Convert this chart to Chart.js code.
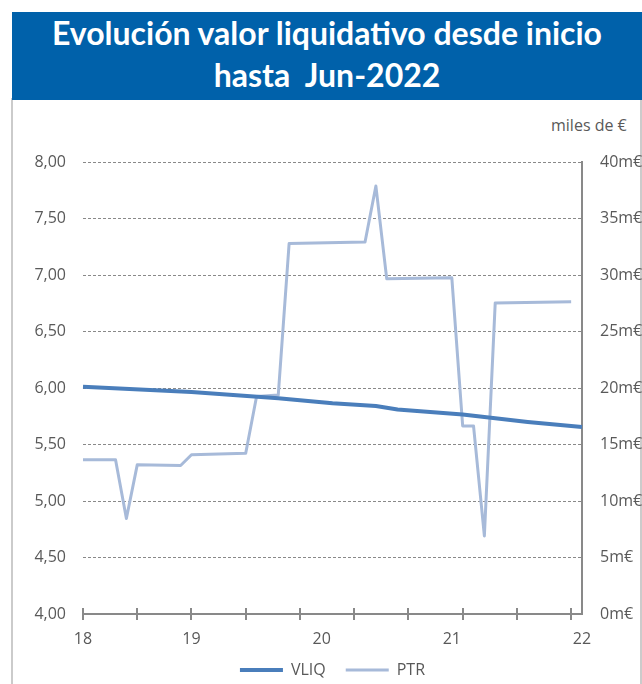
<!DOCTYPE html>
<html>
<head>
<meta charset="utf-8">
<script src="https://cdn.jsdelivr.net/npm/chart.js@4.4.1/dist/chart.umd.min.js"></script>
<style>
  html, body { margin: 0; padding: 0; background: #fff; }
  body { width: 642px; height: 684px; overflow: hidden; position: relative; font-family: 'Open Sans', sans-serif; }
  #frame { position: absolute; left: 11px; top: 98px; width: 627px; height: 620px; border: 2px solid #cbcbcb; }
  #banner { position: absolute; left: 12px; top: 12px; width: 630px; height: 88px; background: #0061aa;
    color: #fff; font-family: Lato, sans-serif; font-weight: 700; font-size: 32px; line-height: 42px;
    text-align: center; padding-top: 0; box-sizing: border-box; white-space: pre; }
  #units { position: absolute; left: 551px; top: 114px; color: #595959; font-size: 16px; }
  #chart { position: absolute; left: 0; top: 0; }
</style>
</head>
<body>
<div id="frame"></div>
<div id="banner">Evolución valor liquidativo desde inicio
hasta  Jun-2022</div>
<div id="units">miles de €</div>
<canvas id="chart" width="642" height="684"></canvas>
<script>
// one point per period on the x axis
const periods = Array.from({ length: 47 }, (_, i) => i);
const yearTickPos = [0, 10, 22, 34, 46];
const yearTickText = ['18', '19', '20', '21', '22'];
const tickMarkStep = 5;

// VLIQ (left axis), nulls are bridged by the line
const vliq = [
  6.01, null, null, null, null, null, null, null, null, null,
  5.965, null, null, null, null, null, null, null, 5.91, null,
  null, null, null, 5.865, null, null, null, 5.84, null, 5.81,
  null, null, null, null, null, 5.765, null, null, null, null,
  null, 5.70, null, null, null, null, 5.655
];

// PTR in thousands of euros (right axis)
const ptr = [
  13.65, null, null, 13.65, 8.45, 13.2, null, null, null, 13.14,
  14.09, null, null, null, null, 14.23, 19.25, null, 19.37, 32.78,
  null, null, null, null, null, null, 32.92, 37.87, 29.66, null,
  null, null, null, null, 29.75, 16.64, 16.64, 6.91, 27.53, null,
  null, null, null, null, null, 27.64, null
];

const grey = '#595959';
const axisGrey = '#898989';
const tickFont = { family: 'Open Sans', size: 16 };

// small tick marks crossing the x axis
const crossTicks = {
  id: 'crossTicks',
  afterLayout(chart) {
    // let the year labels run into the legend area without being clipped
    chart.scales.x.bottom += 20;
  },
  afterDraw(chart) {
    const x = chart.scales.x;
    const y = chart.chartArea.bottom;
    const ctx = chart.ctx;
    ctx.save();
    ctx.strokeStyle = axisGrey;
    ctx.lineWidth = 2;
    ctx.beginPath();
    for (let i = 0; i < periods.length - 1; i += tickMarkStep) {
      const px = Math.round(x.getPixelForValue(i));
      ctx.moveTo(px, y - 6);
      ctx.lineTo(px, y + 6);
    }
    ctx.stroke();
    ctx.restore();
  }
};

new Chart(document.getElementById('chart'), {
  type: 'line',
  data: {
    labels: periods,
    datasets: [
      {
        label: 'VLIQ',
        data: vliq,
        yAxisID: 'y',
        borderColor: '#4a7ebb',
        backgroundColor: '#4a7ebb',
        borderWidth: 4,
        pointRadius: 0,
        spanGaps: true,
        borderJoinStyle: 'round',
        tension: 0
      },
      {
        label: 'PTR',
        data: ptr,
        yAxisID: 'y2',
        borderColor: '#a7bad9',
        backgroundColor: '#a7bad9',
        borderWidth: 3,
        pointRadius: 0,
        spanGaps: true,
        borderJoinStyle: 'round',
        tension: 0
      }
    ]
  },
  options: {
    responsive: false,
    animation: false,
    layout: { padding: { top: 162, left: 0, right: 0, bottom: -4 } },
    plugins: {
      title: { display: false },
      tooltip: { enabled: false },
      legend: {
        position: 'bottom',
        fullSize: false,
        labels: {
          usePointStyle: true,
          pointStyle: 'line',
          pointStyleWidth: 43,
          color: grey,
          font: tickFont,
          padding: 20
        }
      }
    },
    scales: {
      x: {
        type: 'category',
        offset: false,
        grid: { display: false, drawTicks: false },
        border: { display: true, color: axisGrey, width: 2 },
        ticks: {
          autoSkip: false,
          maxRotation: 0,
          padding: 16,
          color: grey,
          font: tickFont,
          callback: (v, i) => {
            const k = yearTickPos.indexOf(i);
            return k >= 0 ? yearTickText[k] : '';
          }
        },
        afterFit: s => { s.height = 28; }
      },
      y: {
        position: 'left',
        min: 4,
        max: 8,
        grid: { color: axisGrey, lineWidth: 1, drawTicks: false },
        border: { display: false, dash: [3, 2] },
        ticks: {
          stepSize: 0.5,
          padding: 17,
          color: grey,
          font: tickFont,
          callback: v => v.toFixed(2).replace('.', ',')
        },
        afterFit: s => { s.width = 83; }
      },
      y2: {
        position: 'right',
        min: 0,
        max: 40,
        grid: { display: false, drawTicks: false },
        border: { display: true, color: axisGrey, width: 2 },
        ticks: {
          stepSize: 5,
          padding: 18,
          color: grey,
          font: tickFont,
          callback: v => v + 'm€'
        },
        afterFit: s => { s.width = 60; }
      }
    }
  },
  plugins: [crossTicks]
});
</script>
</body>
</html>
